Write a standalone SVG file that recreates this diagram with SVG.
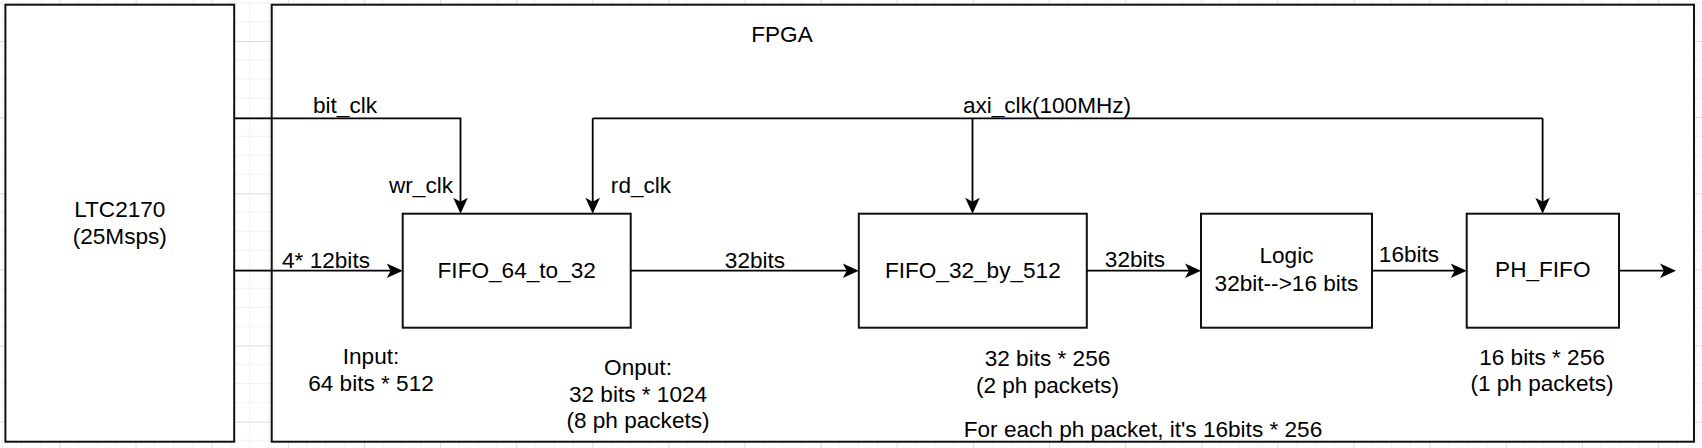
<svg xmlns="http://www.w3.org/2000/svg" width="1702" height="448" viewBox="0 0 1702 448">
<style>
text{font-family:"Liberation Sans",Arial,Helvetica,sans-serif;font-size:22.6px;fill:#000;text-anchor:middle}
.box{fill:#fff;stroke:#111;stroke-width:2}
.wire{fill:none;stroke:#000;stroke-width:1.8}
.arr{marker-end:url(#ah)}
</style>
<defs>
<pattern id="grid" patternUnits="userSpaceOnUse" x="59.46" y="41" width="76.12" height="76.12">
<path d="M19.03,0V76.12M38.06,0V76.12M57.09,0V76.12M0,19.03H76.12M0,38.06H76.12M0,57.09H76.12" stroke="#f0f0f0" stroke-width="1" fill="none"/>
<path d="M0.5,0V76.12M0,0.5H76.12" stroke="#dcdcdc" stroke-width="1" fill="none"/>
</pattern>
<marker id="ah" markerUnits="userSpaceOnUse" viewBox="-17 -8 18 16" markerWidth="18" markerHeight="16" refX="-8" refY="0" orient="auto" overflow="visible">
<path d="M0,0L-16,-7.3L-12,0L-16,7.3Z" fill="#000"/>
</marker>
</defs>
<rect width="1702" height="448" fill="#fff"/>
<rect width="1702" height="448" fill="url(#grid)"/>

<g id="ltc2170">
<rect class="box" x="5.4" y="4.7" width="228.8" height="437"/>
<text x="119.8" y="216.7">LTC2170</text>
<text x="119.8" y="244">(25Msps)</text>
</g>

<g id="fpga">
<rect class="box" x="271.7" y="4.7" width="1422.3" height="437"/>
<text x="782" y="41.7">FPGA</text>
</g>

<g id="fifo_64_to_32">
<rect class="box" x="402.7" y="213.7" width="228" height="114"/>
<text x="516.7" y="278">FIFO_64_to_32</text>
</g>

<g id="fifo_32_by_512">
<rect class="box" x="858.8" y="213.7" width="228" height="114"/>
<text x="972.8" y="278">FIFO_32_by_512</text>
</g>

<g id="logic">
<rect class="box" x="1201" y="213.7" width="171" height="114"/>
<text x="1286.5" y="262.7">Logic</text>
<text x="1286.5" y="291">32bit--&gt;16 bits</text>
</g>

<g id="ph_fifo">
<rect class="box" x="1466.7" y="213.7" width="152.3" height="114"/>
<text x="1542.8" y="277.3">PH_FIFO</text>
</g>

<g id="connectors">
<path class="wire arr" d="M234.2,118.3H460.5V205.7"/>
<path class="wire" d="M592.7,118.3H1542.6"/>
<path class="wire arr" d="M592.7,118.3V205.7"/>
<path class="wire arr" d="M972.5,118.3V205.7"/>
<path class="wire arr" d="M1542.6,118.3V205.7"/>
<path class="wire arr" d="M234.2,270.7H394.7"/>
<path class="wire arr" d="M630.7,270.7H850.8"/>
<path class="wire arr" d="M1086.8,270.7H1193"/>
<path class="wire arr" d="M1372,270.7H1458.7"/>
<path class="wire arr" d="M1619,270.7H1668"/>
</g>

<g id="labels">
<text x="345" y="113">bit_clk</text>
<text x="421" y="192.7">wr_clk</text>
<text x="641" y="192.7">rd_clk</text>
<text x="1047" y="113">axi_clk(100MHz)</text>
<text x="326" y="268">4* 12bits</text>
<text x="755" y="267.7">32bits</text>
<text x="1135" y="266.5">32bits</text>
<text x="1409" y="262">16bits</text>
<text x="371" y="364">Input:</text>
<text x="371" y="390.7">64 bits * 512</text>
<text x="638" y="374.5">Onput:</text>
<text x="638" y="401.5">32 bits * 1024</text>
<text x="638" y="428">(8 ph packets)</text>
<text x="1047.5" y="365.5">32 bits * 256</text>
<text x="1047.5" y="392.5">(2 ph packets)</text>
<text x="1542" y="364.5">16 bits * 256</text>
<text x="1542" y="391">(1 ph packets)</text>
<text x="1143" y="437">For each ph packet, it's 16bits * 256</text>
</g>
</svg>
